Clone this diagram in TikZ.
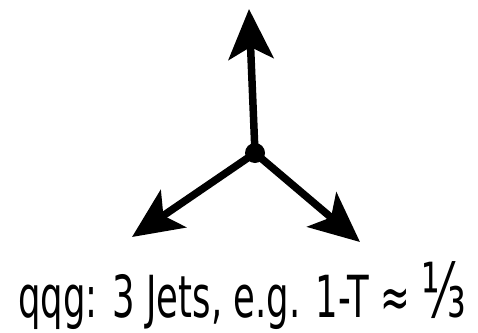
\documentclass[tikz,border=0pt]{standalone}
\usepackage{fontspec}
\setmainfont{DejaVu Sans}
\usetikzlibrary{arrows.meta}
\begin{document}
\begin{tikzpicture}[x=1pt,y=-1pt,
  jet/.style={line width=7.5pt,-{Stealth[length=50pt,width=45pt,inset=12pt]}},
  vertex/.style={circle,fill=black,inner sep=0pt,minimum size=20pt},
  caption/.style={inner sep=0pt,anchor=base west}]
\useasboundingbox (0,0) rectangle (478,332);
\node[vertex] (c) at (255,153) {};
\coordinate (u) at (249,9);
\coordinate (l) at (132,237);
\coordinate (r) at (360,242);
\draw[jet] (c.center) -- (u);
\draw[jet] (c.center) -- (l);
\draw[jet] (c.center) -- (r);
\node[caption] (t) at (18,317) {\resizebox{448pt}{\height}{\fontsize{58pt}{60pt}\selectfont qqg: 3 Jets, e.g. 1-T ≈ \scalebox{1.3}{⅓}}};
\end{tikzpicture}
\end{document}
